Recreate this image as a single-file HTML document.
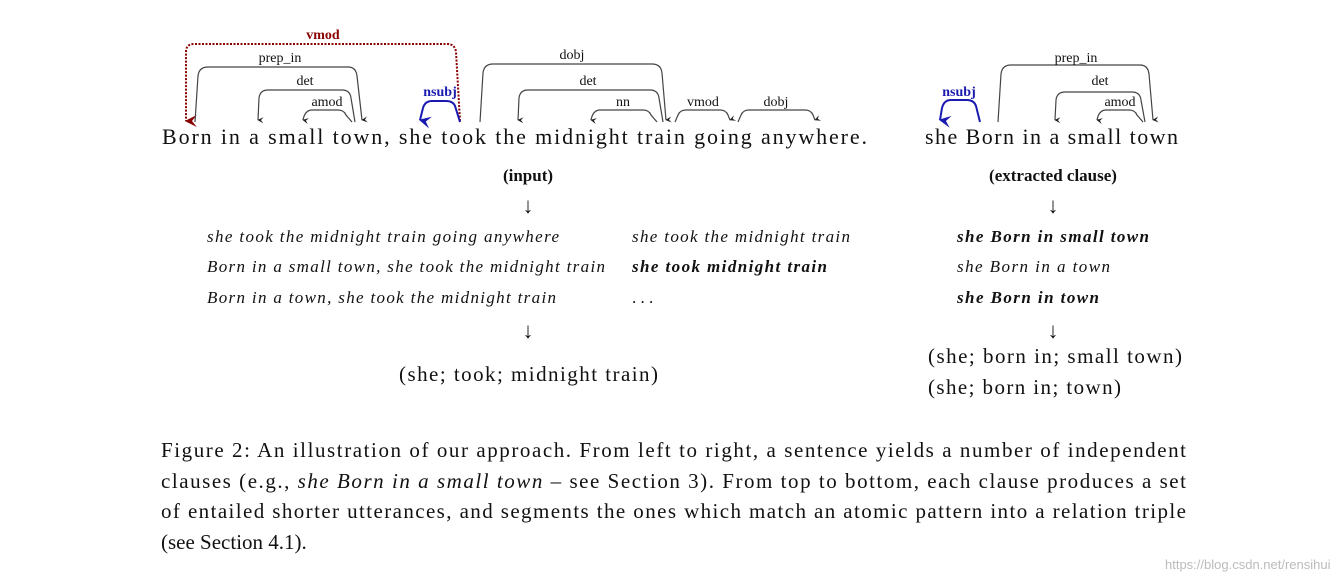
<!DOCTYPE html>
<html><head><meta charset="utf-8"><style>
body{margin:0;background:#fff;}
svg text{font-family:"Liberation Serif",serif;fill:#111;}
</style></head><body>
<svg width="1343" height="583" xmlns="http://www.w3.org/2000/svg">
<defs>
<marker id="a" viewBox="0 0 10 10" refX="5" refY="9" markerWidth="5" markerHeight="6" orient="auto-start-reverse"><path d="M0,0 L5,10 L10,0 L5,4 z" fill="#222"/></marker>
<marker id="b" viewBox="0 0 10 10" refX="5" refY="9" markerWidth="6" markerHeight="7" orient="auto-start-reverse"><path d="M0,0 L5,10 L10,0 L5,4 z" fill="#1a1ab0"/></marker>
<marker id="r" viewBox="0 0 10 10" refX="5" refY="9" markerWidth="6" markerHeight="7" orient="auto-start-reverse"><path d="M0,0 L5,10 L10,0 L5,4 z" fill="#800"/></marker>
</defs>
<g fill="none" stroke="#444" stroke-width="1.2">
<path d="M460,121 L456,52 Q455,44 447,44 L194,44 Q186,44 186,52 L186,121" stroke="#8b0000" stroke-dasharray="2,1.5" stroke-width="2" marker-end="url(#r)"/>
<path d="M195,122 L198,76 Q199,67 208,67 L348,67 Q356,67 357,76 L362,120" marker-end="url(#a)"/>
<path d="M355,122 L351,98 Q350,90 342,90 L268,90 Q260,90 259,98 L258,120" marker-end="url(#a)"/>
<path d="M352,122 L346,115 Q344,110 338,110 L312,110 Q305,110 303,120" marker-end="url(#a)"/>
<path d="M460,122 L455,106 Q453,101 446,101 L432,101 Q425,101 423,108 L420,120" stroke="#1a1ab0" stroke-width="2" marker-end="url(#b)"/>
<path d="M480,122 L483,73 Q484,64 493,64 L652,64 Q661,64 662,73 L666,120" marker-end="url(#a)"/>
<path d="M663,122 L659,98 Q658,90 650,90 L528,90 Q520,90 519,98 L518,120" marker-end="url(#a)"/>
<path d="M657,122 L651,115 Q649,110 643,110 L600,110 Q593,110 591,120" marker-end="url(#a)"/>
<path d="M675,122 L678,115 Q680,110 686,110 L720,110 Q726,110 728,115 L730,120" marker-end="url(#a)"/>
<path d="M738,122 L741,115 Q743,110 749,110 L805,110 Q811,110 813,115 L815,120" marker-end="url(#a)"/>
<path d="M980,122 L976,106 Q974,100 967,100 L951,100 Q944,100 942,108 L940,120" stroke="#1a1ab0" stroke-width="2" marker-end="url(#b)"/>
<path d="M998,122 L1001,74 Q1002,65 1011,65 L1140,65 Q1148,65 1149,74 L1153,120" marker-end="url(#a)"/>
<path d="M1145,122 L1141,100 Q1140,92 1132,92 L1065,92 Q1057,92 1056,100 L1055,120" marker-end="url(#a)"/>
<path d="M1143,122 L1137,115 Q1135,110 1129,110 L1106,110 Q1099,110 1097,120" marker-end="url(#a)"/>
</g>
<g font-size="14" text-anchor="middle">
<text x="323" y="39" font-weight="bold" style="fill:#8b0000">vmod</text>
<text x="280" y="62">prep_in</text>
<text x="305" y="85">det</text>
<text x="327" y="106">amod</text>
<text x="440" y="96" font-weight="bold" style="fill:#1a1ab0">nsubj</text>
<text x="572" y="59">dobj</text>
<text x="588" y="85">det</text>
<text x="623" y="106">nn</text>
<text x="703" y="106">vmod</text>
<text x="776" y="106">dobj</text>
<text x="959" y="96" font-weight="bold" style="fill:#1a1ab0">nsubj</text>
<text x="1076" y="62">prep_in</text>
<text x="1100" y="85">det</text>
<text x="1120" y="106">amod</text>
</g>
<text x="162" y="144" font-size="22" textLength="705" lengthAdjust="spacing">Born in a small town, she took the midnight train going anywhere.</text>
<text x="925" y="144" font-size="22" textLength="253" lengthAdjust="spacing">she Born in a small town</text>
<g font-size="17" text-anchor="middle">
<text x="528" y="181" font-weight="bold">(input)</text>
<text x="528" y="213" font-size="22">↓</text>
<text x="528" y="338" font-size="22">↓</text>
<text x="1053" y="181" font-weight="bold">(extracted clause)</text>
<text x="1053" y="213" font-size="22">↓</text>
<text x="1053" y="338" font-size="22">↓</text>
</g>
<g font-size="17" font-style="italic">
<text x="207" y="242" textLength="352">she took the midnight train going anywhere</text>
<text x="207" y="272" textLength="398">Born in a small town, she took the midnight train</text>
<text x="207" y="303" textLength="349">Born in a town, she took the midnight train</text>
<text x="632" y="242" textLength="218">she took the midnight train</text>
<text x="632" y="272" font-weight="bold" textLength="195">she took midnight train</text>
<text x="632" y="303" font-style="normal">. . .</text>
<text x="957" y="242" font-weight="bold" textLength="192">she Born in small town</text>
<text x="957" y="272" textLength="153">she Born in a town</text>
<text x="957" y="303" font-weight="bold" textLength="142">she Born in town</text>
</g>
<text x="399" y="381" font-size="21" textLength="259">(she; took; midnight train)</text>
<text x="928" y="363" font-size="21" textLength="254">(she; born in; small town)</text>
<text x="928" y="394" font-size="21" textLength="193">(she; born in; town)</text>
<g font-size="21">
<text x="161" y="457" textLength="1025">Figure 2: An illustration of our approach. From left to right, a sentence yields a number of independent</text>
<text x="161" y="488" textLength="1025">clauses (e.g., <tspan font-style="italic">she Born in a small town</tspan> – see Section 3). From top to bottom, each clause produces a set</text>
<text x="161" y="518" textLength="1025">of entailed shorter utterances, and segments the ones which match an atomic pattern into a relation triple</text>
<text x="161" y="549">(see Section 4.1).</text>
</g>
<text x="1165" y="569" font-size="13" style="fill:#bbb;font-family:'Liberation Sans',sans-serif">https://blog.csdn.net/rensihui</text>
</svg>
</body></html>
